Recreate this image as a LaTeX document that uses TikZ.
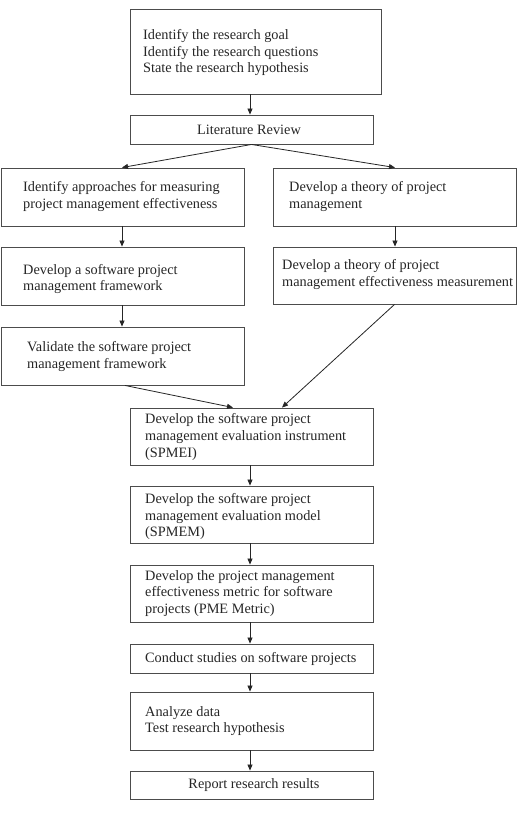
\documentclass[tikz,border=0pt]{standalone}
\usepackage{fontspec}
\setmainfont{Liberation Serif}
\usetikzlibrary{arrows.meta}
\begin{document}
\begin{tikzpicture}[x=1pt,y=-1pt,
  box/.style={draw=black!70, line width=0.9pt, rectangle, inner sep=0pt},
  txt/.style={anchor=west, align=left, inner sep=0pt, text=black!85,
    font=\fontsize{14.3}{16.6}\selectfont},
  ctxt/.style={anchor=center, align=center, inner sep=0pt, text=black!85,
    font=\fontsize{14.3}{16.6}\selectfont},
  arr/.style={draw=black!85, line width=0.8pt, -{Triangle[length=6pt,width=5pt]}}]
\useasboundingbox (0,0) rectangle (518,822);
\fill[white] (0,0) rectangle (518,822);
\coordinate (cc) at (250,0);
\coordinate (lc) at (122,0);
\coordinate (rc) at (395,0);
% boxes
\node[box, minimum width=251, minimum height=85] (top) at (255.5,51.5) {};
\node[box, minimum width=243, minimum height=29] (lit) at (251.5,129.5) {};
\node[box, minimum width=243, minimum height=58] (L1) at (122.5,197) {};
\node[box, minimum width=243, minimum height=58] (R1) at (394.5,197) {};
\node[box, minimum width=243, minimum height=58] (L2) at (122.5,276) {};
\node[box, minimum width=243, minimum height=57] (R2) at (394.5,275.5) {};
\node[box, minimum width=243, minimum height=58] (L3) at (122.5,356) {};
\node[box, minimum width=243, minimum height=57] (spmei) at (251.5,436.5) {};
\node[box, minimum width=243, minimum height=57] (spmem) at (251.5,514.5) {};
\node[box, minimum width=243, minimum height=57] (pme) at (251.5,593.5) {};
\node[box, minimum width=243, minimum height=29] (cond) at (251.5,658.5) {};
\node[box, minimum width=243, minimum height=58] (anal) at (251.5,721) {};
\node[box, minimum width=243, minimum height=28] (rep) at (251.5,785) {};
% texts
\node[txt] (ttop) at (143,52.7) {Identify the research goal\\Identify the research questions\\State the research hypothesis};
\node[ctxt] (tlit) at (249,129.5) {Literature Review};
\node[txt] (tL1) at (23,196.5) {Identify approaches for measuring\\project management effectiveness};
\node[txt] (tR1) at (289,196.5) {Develop a theory of project\\management};
\node[txt] (tL2) at (23,279) {Develop a software project\\management framework};
\node[txt] (tR2) at (282,274.5) {Develop a theory of project\\management effectiveness measurement};
\node[txt] (tL3) at (27,356.5) {Validate the software project\\management framework};
\node[txt] (tspmei) at (145,437) {Develop the software project\\management evaluation instrument\\(SPMEI)};
\node[txt] (tspmem) at (145,516.5) {Develop the software project\\management evaluation model\\(SPMEM)};
\node[txt] (tpme) at (145,593.5) {Develop the project management\\effectiveness metric for software\\projects (PME Metric)};
\node[txt] (tcond) at (145,658.5) {Conduct studies on software projects};
\node[txt] (tanal) at (145,721) {Analyze data\\Test research hypothesis};
\node[ctxt] (trep) at (254,785) {Report research results};
% connectors
\draw[arr] (top.south -| cc) -- (lit.north -| cc);
\draw[arr] (lit.south) -- (L1.north -| lc);
\draw[arr] (lit.south) -- (R1.north -| rc);
\draw[arr] (L1.south -| lc) -- (L2.north -| lc);
\draw[arr] (R1.south -| rc) -- (R2.north -| rc);
\draw[arr] (L2.south -| lc) -- (L3.north -| lc);
\draw[arr] ([xshift=2.5]L3.south) -- ([xshift=-18.5]spmei.north);
\draw[arr] (R2.south) -- ([xshift=30.5]spmei.north);
\draw[arr] (spmei.south -| cc) -- (spmem.north -| cc);
\draw[arr] (spmem.south -| cc) -- (pme.north -| cc);
\draw[arr] (pme.south -| cc) -- (cond.north -| cc);
\draw[arr] (cond.south -| cc) -- (anal.north -| cc);
\draw[arr] (anal.south -| cc) -- (rep.north -| cc);
\end{tikzpicture}
\end{document}
